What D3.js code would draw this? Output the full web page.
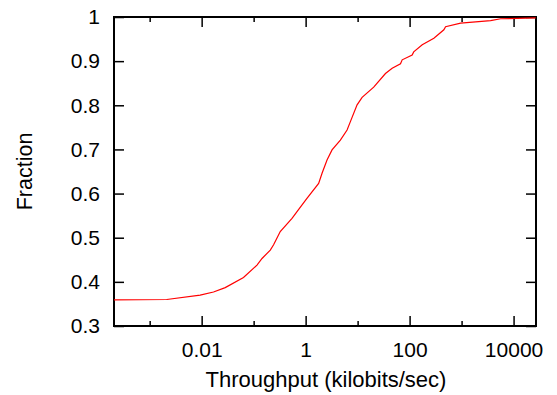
<!DOCTYPE html>
<html>
<head>
<meta charset="utf-8">
<script src="https://cdn.jsdelivr.net/npm/d3@7"></script>
<style>
  body { margin: 0; background: #fff; }
  text { font-family: "Liberation Sans", Arial, sans-serif; fill: #000; }
</style>
</head>
<body>
<svg id="chart" width="557" height="395"></svg>
<script>
// CDF of throughput
const throughput = [0.000206, 0.00213, 0.00935, 0.0169, 0.0284, 0.0638, 0.116, 0.145, 0.209, 0.242,
  0.325, 0.547, 0.683, 1.06, 1.78, 2.07, 2.58, 3.22, 4.66, 6.27, 7.26, 9.77, 12.2, 20.4, 34.3,
  46.2, 66.8, 72, 112, 120, 175, 293, 456, 492, 957, 3620, 5640, 26700];
const fraction = [0.359, 0.360, 0.370, 0.377, 0.387, 0.410, 0.438, 0.453, 0.472, 0.484,
  0.514, 0.544, 0.559, 0.589, 0.623, 0.646, 0.676, 0.699, 0.721, 0.744, 0.763, 0.801, 0.818, 0.841, 0.872,
  0.884, 0.894, 0.903, 0.914, 0.921, 0.937, 0.952, 0.971, 0.978, 0.986, 0.992, 0.996, 0.998];

const xMajor = [0.01, 1, 100, 10000];
const xMinor = [0.001, 0.1, 10, 1000];
const yTicks = [0.3, 0.4, 0.5, 0.6, 0.7, 0.8, 0.9, 1];

const width = 557, height = 395;
const margin = { top: 17, right: 21, bottom: 69, left: 114 };
const innerWidth = width - margin.left - margin.right;
const innerHeight = height - margin.top - margin.bottom;

const xScale = d3.scaleLog().domain([2.06e-4, 2.7e4]).range([0, innerWidth]);
const yScale = d3.scaleLinear().domain([0.3, 1]).range([innerHeight, 0]);

const svg = d3.select("#chart");
const inner = svg.append("g")
  .attr("transform", `translate(${margin.left}, ${margin.top})`);

// bottom + top axes
inner.append("g")
  .attr("transform", `translate(0, ${innerHeight})`)
  .call(d3.axisBottom(xScale).tickValues(xMajor).tickSize(-10).tickPadding(16).tickFormat(d => String(d)));
inner.append("g").attr("class", "bare")
  .attr("transform", `translate(0, ${innerHeight})`)
  .call(d3.axisBottom(xScale).tickValues(xMinor).tickSize(-5));
inner.append("g").attr("class", "bare")
  .call(d3.axisTop(xScale).tickValues(xMajor).tickSize(-10));
inner.append("g").attr("class", "bare")
  .call(d3.axisTop(xScale).tickValues(xMinor).tickSize(-5));

// left + right axes
inner.append("g")
  .call(d3.axisLeft(yScale).tickValues(yTicks).tickSize(-10).tickPadding(14).tickFormat(d3.format("")));
inner.append("g").attr("class", "bare")
  .attr("transform", `translate(${innerWidth}, 0)`)
  .call(d3.axisRight(yScale).tickValues(yTicks).tickSize(-10));

inner.selectAll(".bare .tick text").remove();
inner.selectAll(".domain").remove();
inner.selectAll(".tick line").attr("stroke", "#000").attr("stroke-width", 1.5);
inner.selectAll(".tick text").attr("font-size", 21).attr("fill", "#000");

// frame
inner.append("rect")
  .attr("width", innerWidth).attr("height", innerHeight)
  .attr("fill", "none").attr("stroke", "#000").attr("stroke-width", 2);

// curve
const line = d3.line()
  .x((d, i) => xScale(throughput[i]))
  .y(d => yScale(d));
inner.append("path")
  .datum(fraction)
  .attr("d", line)
  .attr("fill", "none")
  .attr("stroke", "#ff0000")
  .attr("stroke-width", 1.2);

// labels
svg.append("text")
  .attr("x", margin.left + innerWidth / 2 + 1)
  .attr("y", 387)
  .attr("text-anchor", "middle")
  .attr("font-size", 22)
  .text("Throughput (kilobits/sec)");

svg.append("text")
  .attr("transform", `translate(32, ${margin.top + innerHeight / 2}) rotate(-90)`)
  .attr("text-anchor", "middle")
  .attr("font-size", 21.5)
  .text("Fraction");
</script>
</body>
</html>
